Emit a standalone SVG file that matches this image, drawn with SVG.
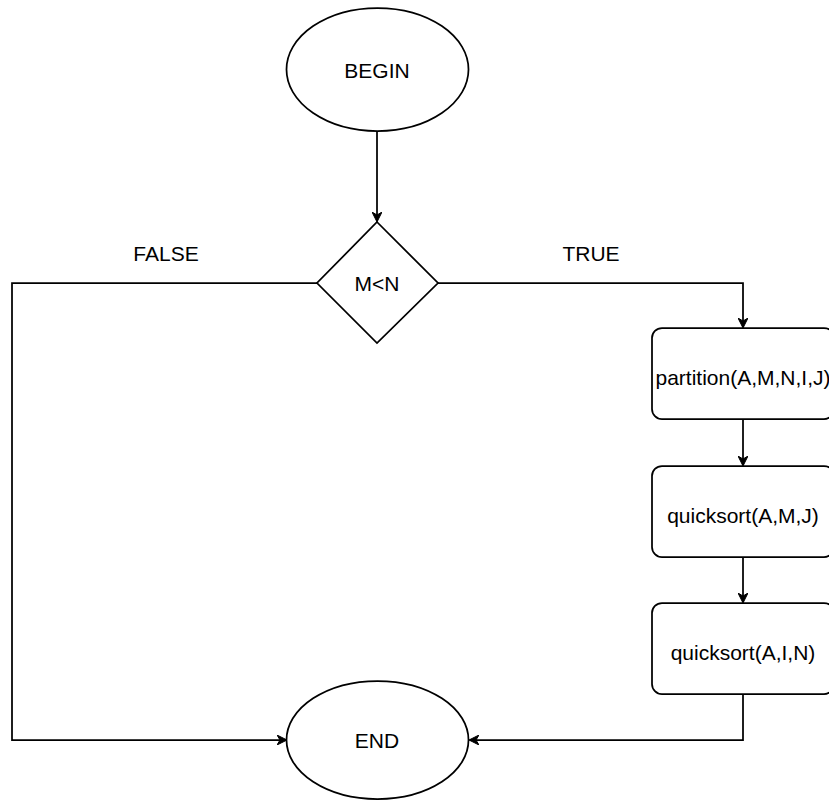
<svg xmlns="http://www.w3.org/2000/svg" width="829" height="800" viewBox="0 0 829 800">
<style>
.shape{fill:#fff;stroke:#000;stroke-width:1.75}
.edge{fill:none;stroke:#000;stroke-width:1.75}
.lbl{font-family:"Liberation Sans",Arial,sans-serif;font-size:21px;fill:#000;text-anchor:middle}
</style>
<defs>
<marker id="arr" viewBox="0 0 10 10" refX="9" refY="5" markerWidth="10" markerHeight="10" markerUnits="userSpaceOnUse" orient="auto">
<path d="M0,0 L10,5 L0,10 L3,5 Z" fill="#000" stroke="#000" stroke-width="1"/>
</marker>
</defs>
<rect width="829" height="800" fill="#fff"/>
<g id="connectors">
<path class="edge" d="M377,131 L377,221" marker-end="url(#arr)"/>
<path class="edge" d="M317,283 L12,283 L12,740 L286,740" marker-end="url(#arr)"/>
<path class="edge" d="M438,283 L743,283 L743,327" marker-end="url(#arr)"/>
<path class="edge" d="M743,420 L743,465" marker-end="url(#arr)"/>
<path class="edge" d="M743,557 L743,602" marker-end="url(#arr)"/>
<path class="edge" d="M743,694 L743,740 L470,740" marker-end="url(#arr)"/>
<text class="lbl" x="166" y="261">FALSE</text>
<text class="lbl" x="591" y="261">TRUE</text>
</g>
<g id="begin">
<ellipse class="shape" cx="377.5" cy="69.5" rx="91" ry="61.5"/>
<text class="lbl" x="377" y="78">BEGIN</text>
</g>
<g id="cond">
<path class="shape" d="M377,222 L438,283 L377,343 L317,283 Z"/>
<text class="lbl" x="377" y="291">M&lt;N</text>
</g>
<g id="partition">
<rect class="shape" x="652" y="328" width="182" height="91" rx="10"/>
<text class="lbl" x="743" y="385">partition(A,M,N,I,J)</text>
</g>
<g id="qs1">
<rect class="shape" x="652" y="466" width="182" height="91" rx="10"/>
<text class="lbl" x="743" y="523">quicksort(A,M,J)</text>
</g>
<g id="qs2">
<rect class="shape" x="652" y="603" width="182" height="91" rx="10"/>
<text class="lbl" x="743" y="660">quicksort(A,I,N)</text>
</g>
<g id="end">
<ellipse class="shape" cx="377.5" cy="740" rx="91" ry="59"/>
<text class="lbl" x="377" y="748">END</text>
</g>
</svg>
